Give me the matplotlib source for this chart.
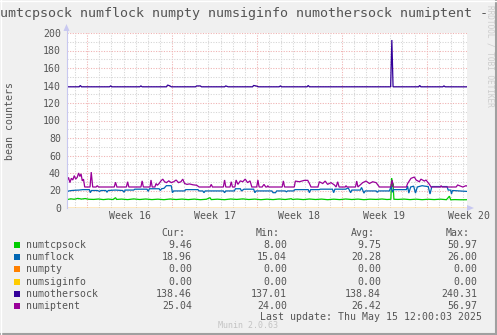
import numpy as np
import matplotlib
matplotlib.use("Agg")
import matplotlib.pyplot as plt
from matplotlib.patches import Polygon, Rectangle

plt.rcParams['font.family'] = ['DejaVu Sans Mono']

# ---- data (x in days since start of the 33 day window) ----
iptent_t = [0.00, 0.12, 0.24, 0.36, 0.48, 0.60, 0.72, 0.84, 0.96, 1.06, 1.16, 1.26, 1.36, 1.46,
            1.90, 2.00, 2.12, 2.40, 2.50, 2.60, 3.90, 4.00, 4.12, 4.90, 5.00, 5.10, 6.10, 6.20,
            6.30, 6.85, 6.93, 7.03, 7.25, 7.35, 7.45, 7.60, 7.75, 7.90, 8.05, 8.20, 8.40, 8.60,
            8.80, 9.00, 9.20, 9.40, 9.55, 9.70, 9.90, 10.10, 10.40, 10.70, 10.90, 11.80, 11.90,
            12.00, 12.90, 13.00, 13.10, 13.45, 13.55, 13.65, 13.85, 13.95, 14.10, 14.30, 14.50,
            14.70, 14.90, 15.10, 15.25, 15.65, 15.75, 15.85, 16.10, 16.25, 16.40, 16.50, 16.56,
            16.65, 17.75, 17.85, 17.95, 18.75, 18.84, 19.17, 19.58, 19.86, 20.00, 20.13, 20.70,
            20.82, 21.10, 21.30, 21.50, 21.78, 22.06, 22.20, 22.33, 22.45, 22.95, 23.02, 23.10,
            23.80, 23.90, 24.00, 24.40, 24.67, 24.95, 25.22, 25.50, 25.77, 26.70, 26.82, 26.92,
            28.00, 28.10, 28.38, 28.66, 28.80, 29.07, 29.20, 29.48, 29.62, 29.90, 30.03, 30.80,
            30.86, 30.95, 32.10, 32.23, 32.65, 32.92, 33.00]
iptent_v = [31, 35, 29, 34, 32, 37, 33, 35, 40, 36, 39, 31, 33, 24,
            24, 41, 24, 24, 25.5, 24, 24, 29.5, 24, 24, 30, 24, 24, 31,
            24, 24, 32, 24, 24, 28, 26, 28, 31, 33, 30, 29, 31, 29,
            30, 32, 29, 30, 33, 28, 27, 27.5, 26.5, 26, 24, 24, 27,
            24, 24, 32, 24, 24, 30, 24, 24, 32, 27, 31, 30,
            33, 29, 31, 24, 24, 32, 24, 24, 27, 24, 24, 25.5,
            24, 24, 31, 24, 24, 30.8, 30, 31.6, 31.6, 28, 24, 24,
            30, 28, 30.8, 27, 29, 26.3, 24, 30, 24, 24, 25.5, 24,
            24, 30.8, 24, 29, 30.8, 28, 30, 29, 24, 24, 32, 24,
            24, 28, 33.9, 35.4, 32, 30, 33, 30.8, 32, 27, 24, 24,
            25.5, 24, 24, 26.3, 24, 25.5, 25.04]

flock_t = [0.00, 0.15, 0.40, 0.70, 1.00, 1.30, 1.85, 1.92, 2.02, 2.50, 2.70, 2.80, 3.20, 3.30,
           3.40, 4.00, 4.60, 4.70, 4.80, 5.50, 5.60, 6.60, 6.70, 6.80, 7.60, 7.70, 7.80, 8.00,
           8.20, 8.60, 8.70, 8.80, 9.70, 9.80, 10.80, 10.90, 11.20, 11.30, 11.40, 12.90, 13.00,
           13.10, 13.80, 13.90, 14.30, 14.40, 14.60, 15.40, 15.50, 15.60, 16.90, 17.00, 17.20,
           17.30, 18.00, 18.10, 18.20, 18.70, 18.80, 19.90, 20.00, 20.10, 20.80, 20.90, 21.90,
           22.00, 22.10, 23.00, 23.20, 23.40, 23.50, 24.20, 24.30, 24.50, 24.60, 25.50, 25.60,
           25.70, 26.60, 26.75, 26.85, 26.95, 28.00, 28.10, 28.20, 28.35, 28.60, 28.75, 28.90,
           29.30, 29.50, 29.80, 29.95, 30.10, 31.35, 31.45, 31.65, 31.72, 31.80, 33.00]
flock_v = [18.5, 19.5, 20, 20.3, 20.5, 21, 21, 17.5, 20, 20, 19, 20, 20, 18,
           20, 20.5, 20, 18, 20.5, 20.5, 21.5, 21.5, 19, 22, 22, 20, 22, 22.5,
           25.5, 25.5, 17.5, 19.5, 19.5, 21, 21, 19.5, 19.5, 17.5, 19.5, 19.5, 17.5,
           19.5, 19.5, 22, 22, 19.5, 21.5, 21.5, 17.5, 19.5, 19.5, 17.5, 17.5,
           19.5, 19.5, 18.5, 19.5, 19.5, 21, 21, 17.5, 21, 21, 21.5, 21.5,
           17.5, 21.5, 21.5, 23, 17.5, 20.5, 20.5, 23.5, 17, 19.5, 19.5, 18,
           19.5, 19.5, 25, 18, 21, 21, 25, 17, 24, 25, 17, 24,
           25.5, 25, 24.5, 16, 24.5, 24.5, 20.5, 20.5, 16, 20, 18.96]

tcpsock_t = [0.0, 0.3, 0.6, 0.9, 1.2, 1.5, 1.8, 2.2, 2.6, 3.0, 3.4, 3.8, 4.0, 4.1, 4.5, 5.0,
             5.5, 6.0, 6.5, 7.0, 7.5, 8.0, 8.5, 9.0, 9.5, 10.0, 10.5, 11.0, 11.5, 11.8, 11.9,
             12.4, 13.0, 13.5, 14.0, 14.5, 15.0, 15.5, 16.0, 16.5, 17.0, 17.5, 18.0, 18.5, 18.6,
             19.0, 19.5, 20.0, 20.5, 21.0, 21.5, 22.0, 22.5, 23.0, 23.5, 24.0, 24.5, 25.0, 25.5,
             26.0, 26.4, 26.72, 26.78, 26.84, 26.9, 26.97, 27.3, 27.8, 28.3, 28.8, 29.3, 29.8,
             30.3, 30.8, 31.3, 31.55, 31.65, 32.0, 32.5, 33.0]
tcpsock_v = [9.5, 10.5, 10, 11, 10.2, 10.8, 10, 9.8, 10.3, 9.6, 10.2, 9.7, 11.8, 9.8, 10.2, 9.6,
             10.4, 9.7, 10.3, 9.6, 10.1, 9.5, 10.3, 9.7, 10.2, 9.6, 10.2, 9.5, 10, 11.8, 9.6,
             10.1, 9.5, 10.3, 9.8, 10.4, 9.7, 10.2, 9.5, 10.1, 9.6, 10.3, 9.7, 10.6, 9.8,
             10.2, 9.6, 10.3, 9.7, 10.2, 9.5, 10.1, 9.6, 10.3, 9.7, 10.2, 9.5, 10.1, 9.8,
             10.3, 9.7, 10, 34, 24, 28, 10, 9.8, 10.2, 9.6, 10.1, 9.5, 10,
             9.6, 10.1, 9.5, 13.5, 9.4, 9.6, 9.4, 9.46]

othersock_t = [0, 1.0, 1.1, 1.2, 3.5, 3.6, 3.7, 6.0, 6.1, 6.2, 8.2, 8.3, 8.5, 8.6, 10.6, 10.7,
               11.0, 11.1, 13.0, 13.1, 13.3, 15.3, 15.4, 15.6, 15.8, 17.5, 17.6, 17.7, 19.8,
               19.9, 20.0, 26.7, 26.8, 26.9, 29.0, 29.1, 29.2, 31.0, 31.1, 31.2, 33.0]
othersock_v = [138.5, 138.5, 140, 138.5, 138.5, 139.5, 138.5, 138.5, 139.5, 138.5, 138.5, 140.5,
               139.5, 138.5, 138.5, 139.5, 139.5, 138.5, 138.5, 139.5, 138.5, 138.5, 140, 139.5,
               138.5, 138.5, 139.5, 138.5, 138.5, 140, 138.5, 138.5, 192, 138.5, 138.5, 140,
               138.5, 138.5, 139.5, 138.5, 138.46]

zero_t = [0, 33]
zero_v = [0, 0]

names = ['numtcpsock', 'numflock', 'numpty', 'numsiginfo', 'numothersock', 'numiptent']
colors = ['#00CC00', '#0066B3', '#FF8000', '#FFCC00', '#330099', '#990099']
cur = [9.46, 18.96, 0.00, 0.00, 138.46, 25.04]
mins = [8.00, 15.04, 0.00, 0.00, 137.01, 24.00]
avgs = [9.75, 20.28, 0.00, 0.00, 138.84, 26.42]
maxs = [50.97, 26.00, 0.00, 0.00, 240.31, 56.97]

week_grid = [1.67, 8.67, 15.67, 22.67, 29.67]
day_grid = [0.67 + k for k in range(33)]
week_label_pos = [5.17, 12.17, 19.17, 26.17, 33.17]
week_labels = ['Week 16', 'Week 17', 'Week 18', 'Week 19', 'Week 20']

series = [(tcpsock_t, tcpsock_v), (flock_t, flock_v), (zero_t, zero_v),
          (zero_t, zero_v), (othersock_t, othersock_v), (iptent_t, iptent_v)]

W, H = 497, 335
txt = '#555555'
fs = 7.1

fig = plt.figure(figsize=(W / 100, H / 100), dpi=100, facecolor='#F0F0F0')
ax = fig.add_axes([67 / W, (H - 208) / H, 400 / W, 175 / H])
ax.set_facecolor('white')
ax.set_xlim(0, 33)
ax.set_ylim(0, 200)
for s in ax.spines.values():
    s.set_visible(False)

ax.set_xticks(week_grid)
ax.set_xticks(day_grid, minor=True)
ax.set_xticklabels([])
ax.set_yticks(range(0, 201, 20))
ax.set_yticks(range(0, 201, 10), minor=True)
ax.tick_params(which='both', length=0, colors=txt, labelsize=fs)
ax.tick_params(axis='y', pad=4.3)
ax.grid(which='minor', color='#D6D6D6', lw=0.75, ls=(0, (1.1, 1.4)))
ax.grid(which='major', color='#F0B4B4', lw=0.75, ls=(0, (1.1, 1.4)))
ax.set_axisbelow(True)

for (t, v), c in zip(series, colors):
    ax.plot(t, v, color=c, lw=0.9, solid_joinstyle='miter')

for x, lab in zip(week_label_pos, week_labels):
    ax.text(x, -0.045, lab, transform=ax.get_xaxis_transform(), ha='center', va='center',
            fontsize=fs, color=txt, clip_on=False)

ax.set_ylabel('bean counters', fontsize=fs, color=txt, va='center')
ax.yaxis.set_label_coords((10 - 67) / 400, 0.5)

# overlay in pixel coordinates for frame texts
ov = fig.add_axes([0, 0, 1, 1], zorder=5)
ov.set_xlim(0, W)
ov.set_ylim(H, 0)
ov.axis('off')
ov.patch.set_alpha(0)

# axis lines and arrows
ov.plot([66.5, 66.5], [208, 29], color='#C8C8F0', lw=0.8)
ov.add_patch(Polygon([[63.5, 31], [69.5, 31], [66.5, 24]], closed=True, color='#C8C8F0', lw=0))
ov.add_patch(Polygon([[467, 205], [467, 211], [474, 208]], closed=True, color='#C8C8F0', lw=0))

ov.text(-7.5, 13, 'numtcpsock numflock numpty numsiginfo numothersock numiptent -',
        fontsize=9.6, color=txt, ha='left', va='center')
ov.text(490, 5, 'RRDTOOL / TOBI OETIKER', fontsize=5.6, color='#CDCDCD', rotation=-90,
        ha='center', va='top')

heads = ['Cur:', 'Min:', 'Avg:', 'Max:']
head_x = [185, 280, 375, 470]
val_x = [192, 287, 381, 477]
for hx, h in zip(head_x, heads):
    ov.text(hx, 233, h, fontsize=fs, color=txt, ha='right', va='center')
for i, n in enumerate(names):
    y = 245.3 + i * 12.07
    ov.add_patch(Rectangle((14, y - 3), 6, 6, color=colors[i], lw=0))
    ov.text(26, y, n, fontsize=fs, color=txt, ha='left', va='center')
    for vx, arr in zip(val_x, [cur, mins, avgs, maxs]):
        ov.text(vx, y, '%.2f' % arr[i], fontsize=fs, color=txt, ha='right', va='center')

ov.text(482, 317, 'Last update: Thu May 15 12:00:03 2025', fontsize=fs, color=txt,
        ha='right', va='center')
ov.text(248, 325, 'Munin 2.0.63', fontsize=6, color='#C4C4C4', ha='center', va='center')

# frame
ov.plot([0, W], [H - 1, H - 1], color='#A0A0A0', lw=1.5)
ov.plot([W - 0.7, W - 0.7], [0, H], color='#A0A0A0', lw=1.5)
ov.plot([0, W], [0.5, 0.5], color='#FFFFFF', lw=1.0)
ov.plot([0.5, 0.5], [0, H], color='#FFFFFF', lw=1.0)

fig.savefig('out.png', dpi=100, facecolor=fig.get_facecolor())
